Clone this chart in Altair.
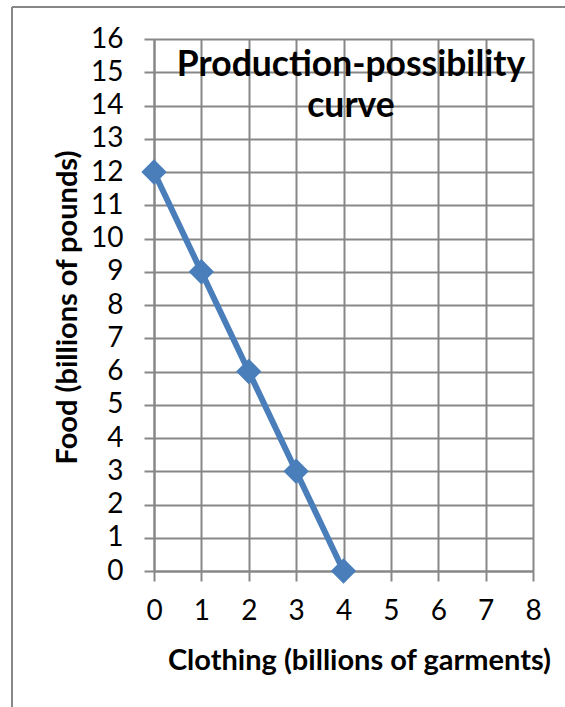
import altair as alt
import pandas as pd

clothing = [0, 1, 2, 3, 4]
food = [12, 9, 6, 3, 0]
x_ticks = [0, 1, 2, 3, 4, 5, 6, 7, 8]
y_ticks = list(range(0, 17))
title_lines = ["Production-possibility", "curve"]
x_title = "Clothing (billions of garments)"
y_title = "Food (billions of pounds)"

FONT = "Lato"
GRID = "#878787"
BLUE = "#4A7EBB"

df = pd.DataFrame({"clothing": clothing, "food": food})

x_enc = alt.X(
    "clothing:Q",
    scale=alt.Scale(domain=[0, 8], nice=False),
    axis=alt.Axis(
        values=x_ticks, title=x_title, format="d",
        titleX=205, titleY=98, titleAlign="center", titleBaseline="alphabetic",
        labelPadding=16, labelOverlap=False, labelFlush=False,
    ),
)
y_enc = alt.Y(
    "food:Q",
    scale=alt.Scale(domain=[0, 16], nice=False),
    axis=alt.Axis(
        values=y_ticks, title=y_title, format="d",
        titleX=-78, titleY=268, titleAlign="center", titleBaseline="alphabetic",
        titleAngle=270, labelPadding=21, labelOverlap=False, labelFlush=False,
    ),
)

base = alt.Chart(df).encode(x=x_enc, y=y_enc)
line = base.mark_line(color=BLUE, strokeWidth=6)
pts = base.mark_point(shape="diamond", filled=True, size=640, color=BLUE, opacity=1)

title_df = pd.DataFrame({"t": ["\n".join(title_lines)]})
title = alt.Chart(title_df).mark_text(
    font=FONT, fontSize=35.5, fontWeight="bold", color="black",
    align="center", baseline="alphabetic", lineBreak="\n", lineHeight=41,
).encode(text="t:N", x=alt.value(197), y=alt.value(37))

frame_df = pd.DataFrame({"k": [0]})
frame_v = alt.Chart(frame_df).mark_rule(color=GRID, strokeWidth=2).encode(
    x=alt.value(-142), y=alt.value(-32), y2=alt.value(700)
)
frame_h = alt.Chart(frame_df).mark_rule(color=GRID, strokeWidth=2).encode(
    x=alt.value(-142), x2=alt.value(420), y=alt.value(-32)
)

chart = alt.layer(frame_v, frame_h, line, pts, title).properties(
    width=379, height=532,
    autosize=alt.AutoSizeParams(type="none"),
    padding={"left": 154, "top": 39, "right": 32, "bottom": 136},
    background="white",
).configure_view(stroke=None).configure_axis(
    grid=True, gridColor=GRID, gridWidth=2, gridOpacity=1,
    domainColor=GRID, domainWidth=2, tickColor=GRID, tickWidth=2, tickSize=10,
    labelFont=FONT, labelFontSize=28, labelColor="black",
    titleFont=FONT, titleFontSize=29, titleFontWeight="bold", titleColor="black",
    labelOverlap=False,
)

chart.save("out.html", embed_options={"renderer": "svg", "actions": False})
